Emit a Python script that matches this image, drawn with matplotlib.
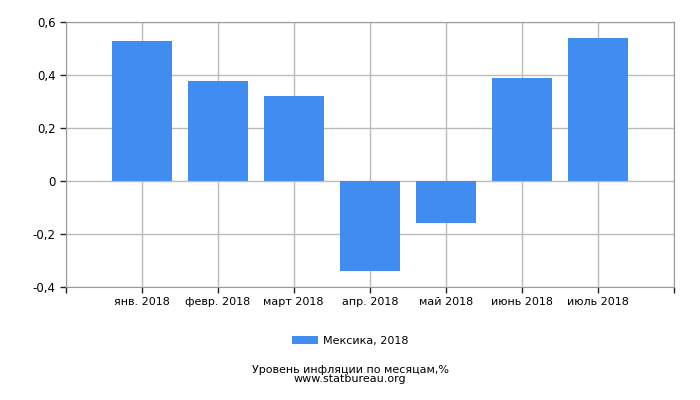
import matplotlib
matplotlib.use('Agg')
import matplotlib.pyplot as plt

months = ['янв. 2018', 'февр. 2018', 'март 2018', 'апр. 2018', 'май 2018', 'июнь 2018', 'июль 2018']
values = [0.53, 0.38, 0.32, -0.34, -0.16, 0.39, 0.54]
yticks = [-0.4, -0.2, 0, 0.2, 0.4, 0.6]
ylabels = ['-0,4', '-0,2', '0', '0,2', '0,4', '0,6']

plt.rcParams['font.family'] = ['DejaVu Sans']
fig = plt.figure(figsize=(7, 4), dpi=100)
ax = fig.add_axes([0.0936, 0.2825, 0.8694, 0.6615])

pos = list(range(1, len(months) + 1))
ax.bar(pos, values, width=0.79, color='#418cf0', label='Мексика, 2018', zorder=3)

ax.set_xlim(0, len(months) + 1)
ax.set_ylim(-0.4, 0.6)
ax.set_xticks(range(0, len(months) + 2))
ax.set_xticklabels([''] + months + [''], fontsize=8)
ax.set_yticks(yticks)
ax.set_yticklabels(ylabels, fontsize=8.5)
ax.grid(True, color='#bbbbbb', linewidth=1, zorder=0)
for s in ax.spines.values():
    s.set_color('#999999')
ax.tick_params(axis='both', length=4, color='#222222', width=1, pad=3)

fig.legend(loc='center', bbox_to_anchor=(0.5, 0.148), frameon=False, fontsize=8,
           handlelength=2.4, handleheight=0.8, handletextpad=0.4)
fig.text(0.5, 0.063, 'Уровень инфляции по месяцам,%\nwww.statbureau.org', ha='center', va='center',
         fontsize=8, linespacing=0.9)

fig.savefig('out.png', dpi=100)
